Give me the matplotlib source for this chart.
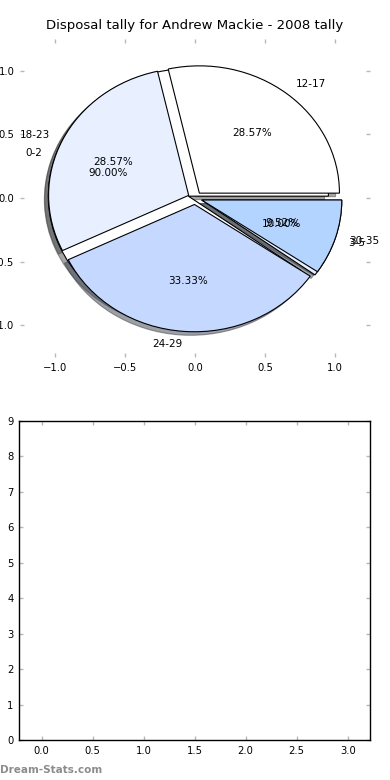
import matplotlib
matplotlib.use("Agg")
import matplotlib.pyplot as plt

# disposal tally by age group
age_labels = ["12-17", "18-23", "24-29", "30-35"]
age_counts = [6, 6, 7, 2]

# second tally drawn over the same axes
small_labels = ["0-2", "3-5"]
small_counts = [9, 1]

wedge_colors = ["#ffffff", "#e8f0ff", "#c5d8ff", "#b3d4ff"]

title = "Disposal tally for Andrew Mackie - 2008 tally"
bar_ylim = (0, 9)
bar_xlim = (-0.22, 3.22)


def style_ticks(ax):
    ax.tick_params(direction="in", color="#b8b8b8", length=3, width=1,
                   top=True, right=True, labelsize=7.2, pad=4)


def main():
    fig = plt.figure(figsize=(3.9, 7.8), dpi=100)

    ax_pie = fig.add_axes([0.051, 0.542, 0.898, 0.408])
    wp = {"edgecolor": "black", "linewidth": 0.8}
    tp = {"fontsize": 7.5}
    ax_pie.pie(small_counts, labels=small_labels, explode=[0.05] * len(small_counts),
               colors=wedge_colors, autopct="%1.2f%%", shadow=True, frame=True,
               wedgeprops=wp, textprops=tp)
    ax_pie.pie(age_counts, labels=age_labels, explode=[0.05] * len(age_counts),
               colors=wedge_colors, autopct="%1.2f%%", shadow=True, frame=True,
               wedgeprops=wp, textprops=tp)
    ax_pie.set_aspect("auto")
    ax_pie.set_xlim(-1.25, 1.25)
    ax_pie.set_ylim(-1.25, 1.25)
    ax_pie.set_xticks([-1.0, -0.5, 0.0, 0.5, 1.0])
    ax_pie.set_yticks([-1.0, -0.5, 0.0, 0.5, 1.0])
    for sp in ax_pie.spines.values():
        sp.set_visible(False)
    style_ticks(ax_pie)
    ax_pie.set_title(title, fontsize=9.5, pad=7)

    ax_bar = fig.add_axes([0.049, 0.0513, 0.9, 0.409])
    ax_bar.set_xlim(*bar_xlim)
    ax_bar.set_ylim(*bar_ylim)
    ax_bar.set_xticks([0.0, 0.5, 1.0, 1.5, 2.0, 2.5, 3.0])
    ax_bar.set_yticks(range(0, 10))
    for sp in ax_bar.spines.values():
        sp.set_linewidth(1.0)
    style_ticks(ax_bar)

    fig.text(0.0, 0.0128, "Dream-Stats.com", fontsize=7.5, fontweight="bold",
             color="#8c8c8c", ha="left", va="center")

    fig.savefig("out.png", dpi=100)


if __name__ == '__main__':
    main()
